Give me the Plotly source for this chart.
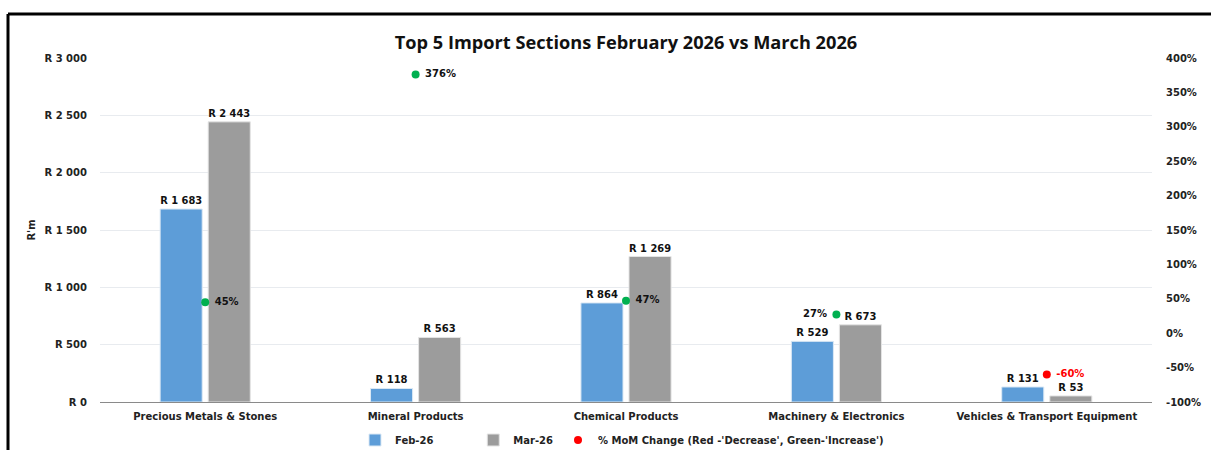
import plotly.graph_objects as go

categories = ["Precious Metals & Stones", "Mineral Products", "Chemical Products",
              "Machinery & Electronics", "Vehicles & Transport Equipment"]
feb_values = [1683, 118, 864, 529, 131]
mar_values = [2443, 563, 1269, 673, 53]
mom_change = [45, 376, 47, 27, -60]
mom_text_pos = ["middle right", "middle right", "middle right", "middle left", "middle right"]
pct_tick_vals = [-100, -50, 0, 50, 100, 150, 200, 250, 300, 350, 400]
pct_tick_text = ["-100%", "-50%", "0%", "50%", "100%", "150%", "200%", "250%", "300%", "350%", "400%"]

FONT = "DejaVu Sans"
TFONT = "Open Sans"
NB = "\u00a0"
fig = go.Figure()

fig.add_trace(go.Bar(
    x=categories, y=feb_values, name="Feb-26" + NB * 10,
    marker=dict(color="#5D9DD8", line=dict(color="#DCE9F5", width=1)),
    texttemplate="R %{y:,d}", textposition="outside",
    textfont=dict(family=FONT, size=10, color="#111111", weight=700),
    cliponaxis=False,
))
fig.add_trace(go.Bar(
    x=categories, y=mar_values, name="Mar-26",
    marker=dict(color="#9C9C9C", line=dict(color="#E4E4E4", width=1)),
    texttemplate="R %{y:,d}", textposition="outside",
    textfont=dict(family=FONT, size=10, color="#111111", weight=700),
    cliponaxis=False,
))

inc_idx = [i for i, v in enumerate(mom_change) if v >= 0]
dec_idx = [i for i, v in enumerate(mom_change) if v < 0]
legend_name = "% MoM Change (Red -'Decrease', Green-'Increase')"

fig.add_trace(go.Scatter(
    x=[categories[i] for i in dec_idx], y=[mom_change[i] for i in dec_idx],
    yaxis="y2", mode="markers+text", name=legend_name, legendgroup="mom",
    marker=dict(color="#FF0000", size=8),
    texttemplate=" %{y:.0f}%", textposition=[mom_text_pos[i] for i in dec_idx],
    textfont=dict(family=FONT, size=10, color="#FF0000", weight=700),
    cliponaxis=False,
))
fig.add_trace(go.Scatter(
    x=[categories[i] for i in inc_idx], y=[mom_change[i] for i in inc_idx],
    yaxis="y2", mode="markers+text", name=legend_name, legendgroup="mom",
    showlegend=False,
    marker=dict(color="#00B050", size=8),
    texttemplate=[" %{y:.0f}%" if mom_text_pos[i] == "middle right" else "%{y:.0f}% " for i in inc_idx],
    textposition=[mom_text_pos[i] for i in inc_idx],
    textfont=dict(family=FONT, size=10, color="#111111", weight=700),
    cliponaxis=False,
))

L, R, T, B = 100, 59, 58, 48
W, H = 1211, 450
pw, ph = W - L - R, H - T - B

fig.update_layout(
    width=W, height=H,
    margin=dict(l=L, r=R, t=T, b=B, autoexpand=False),
    paper_bgcolor="white", plot_bgcolor="white",
    separators=". ",
    barmode="group", bargap=0.543, bargroupgap=0.125,
    font=dict(family=FONT, size=10, color="#222222", weight=700),
    title=dict(text="Top 5 Import Sections February 2026 vs March 2026",
               x=626 / W, xanchor="center", y=1 - 43 / H, yanchor="middle",
               font=dict(family=TFONT, size=18.2, color="#111111", weight=700)),
    xaxis=dict(type="category", range=[-0.5, 4.5], showgrid=False, automargin=False,
               showline=True, linecolor="#8A8A8A", linewidth=1, ticks="",
               tickfont=dict(family=FONT, size=10, color="#222222", weight=700),
               ticklabelstandoff=5),
    yaxis=dict(range=[0, 3000], dtick=500, tickprefix="R ", tickformat=",d", automargin=False,
               showgrid=True, gridcolor="#E8EBEF", gridwidth=1, zeroline=False,
               tickfont=dict(family=FONT, size=10, color="#222222", weight=700),
               ticklabelstandoff=12,
               title=dict(text="R'm", standoff=7,
                          font=dict(family=FONT, size=10, color="#222222", weight=700))),
    yaxis2=dict(range=[-100, 400], tickmode="array", tickvals=pct_tick_vals, ticktext=pct_tick_text,
                overlaying="y", side="right",
                showgrid=False, zeroline=False, automargin=False,
                tickfont=dict(family=FONT, size=10, color="#222222", weight=700),
                ticklabelstandoff=13),
    legend=dict(orientation="h", x=(355 - L) / pw, xanchor="left",
                y=(402 - 440) / ph, yanchor="middle",
                font=dict(family=FONT, size=10, color="#222222", weight=700),
                itemwidth=30, traceorder="normal"),
    shapes=[
        dict(type="line", xref="paper", yref="paper",
             x0=(8 - L) / pw, x1=(W + 5 - L) / pw, y0=1 + (T - 14) / ph, y1=1 + (T - 14) / ph,
             line=dict(color="black", width=3)),
        dict(type="line", xref="paper", yref="paper",
             x0=(8 - L) / pw, x1=(8 - L) / pw, y0=1 + (T - 14) / ph, y1=(402 - 460) / ph,
             line=dict(color="black", width=3)),
    ],
)

fig.write_html("out.html", config={"displayModeBar": False},
               post_script="document.body.style.margin='0';document.body.style.overflow='hidden';")
